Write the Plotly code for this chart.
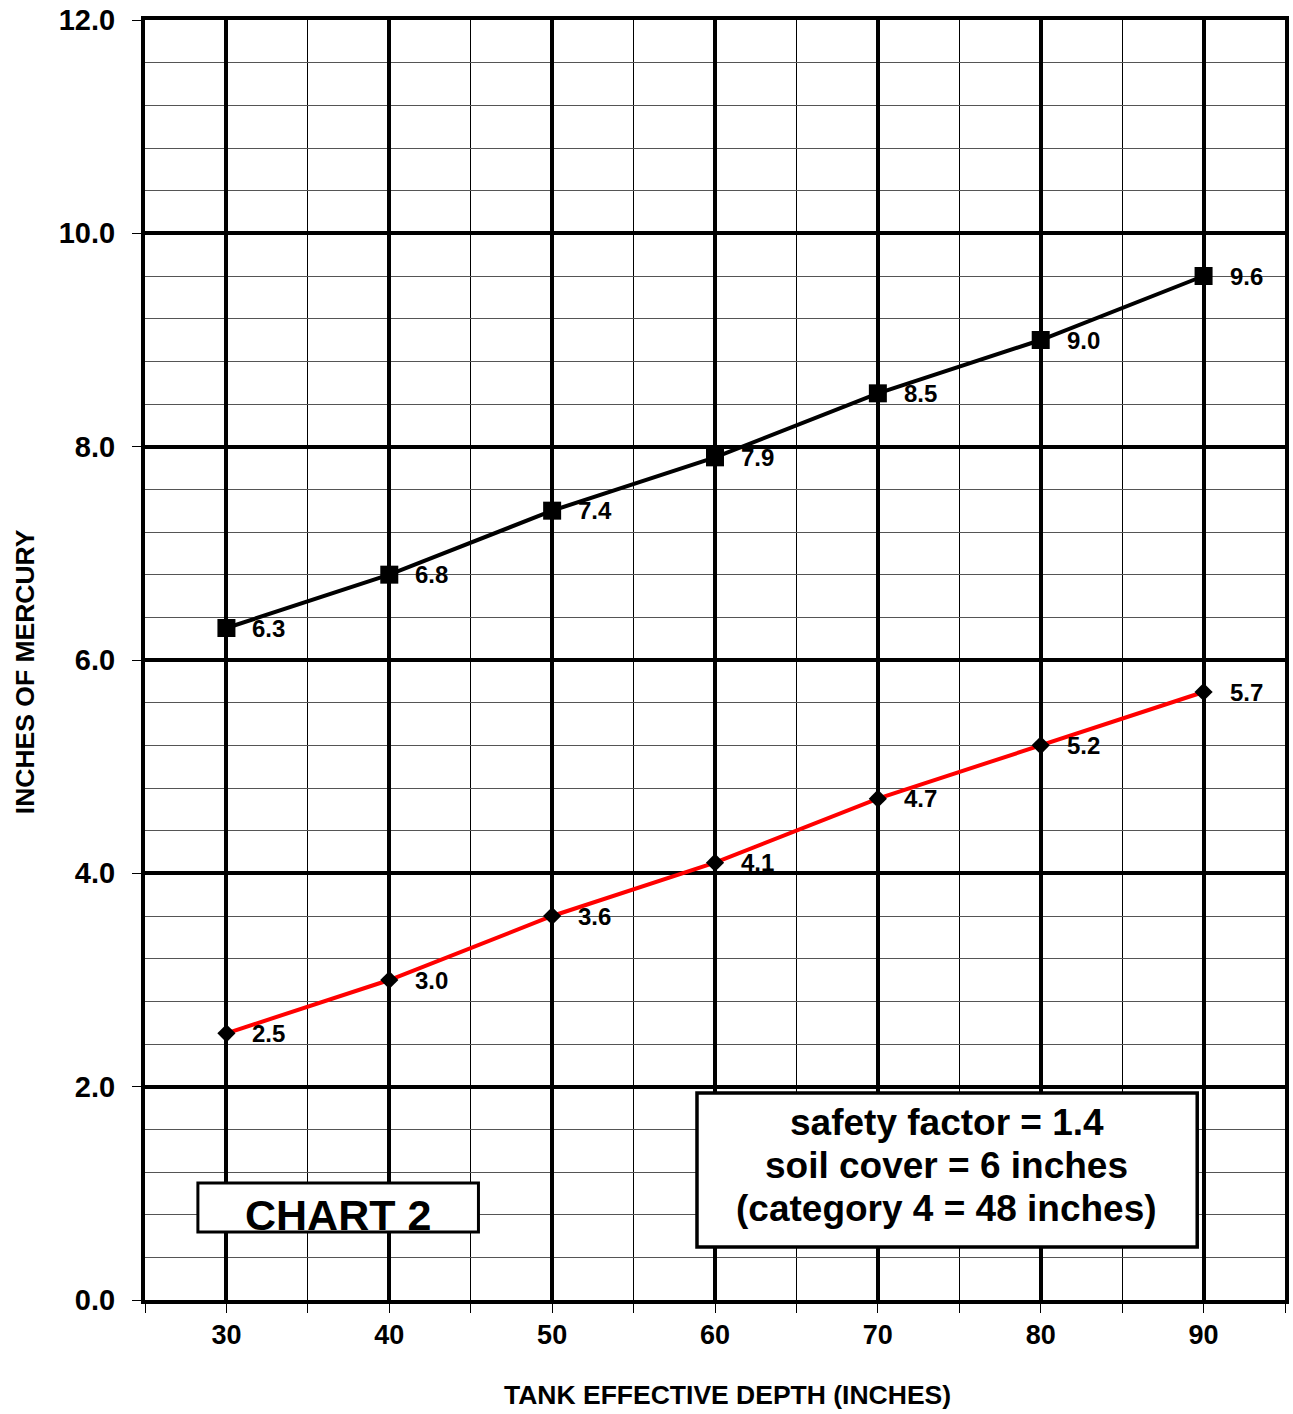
import plotly.graph_objects as go

# ---- data ----
depth = [30, 40, 50, 60, 70, 80, 90]
upper_vals = [6.3, 6.8, 7.4, 7.9, 8.5, 9.0, 9.6]
lower_vals = [2.5, 3.0, 3.6, 4.1, 4.7, 5.2, 5.7]
y_ticks = [0, 2, 4, 6, 8, 10, 12]
x_title = "TANK EFFECTIVE DEPTH (INCHES)"
y_title = "INCHES OF MERCURY"
chart_label = "CHART 2"
info_lines = ["safety factor = 1.4", "soil cover = 6 inches", "(category 4 = 48 inches)"]

FONT = "Liberation Sans, Arial, Helvetica, sans-serif"

fig = go.Figure()
fig.add_trace(go.Scatter(
    x=depth, y=upper_vals, mode="lines+markers",
    line=dict(color="black", width=4),
    marker=dict(symbol="square", size=18, color="black"),
    showlegend=False, hoverinfo="skip"))
fig.add_trace(go.Scatter(
    x=depth, y=lower_vals, mode="lines+markers",
    line=dict(color="#ff0000", width=4),
    marker=dict(symbol="diamond", size=14, color="black"),
    showlegend=False, hoverinfo="skip"))

annotations = []
for series in (upper_vals, lower_vals):
    for xv, yv in zip(depth, series):
        annotations.append(dict(
            x=xv, y=yv, xref="x", yref="y", text=f"{yv:.1f}",
            showarrow=False, xanchor="left", yanchor="middle", xshift=24,
            font=dict(family=FONT, size=24, color="black", weight="bold")))

annotations.append(dict(
    x=0.5114, y=-0.0742, xref="paper", yref="paper", text=x_title,
    showarrow=False, xanchor="center", yanchor="middle",
    font=dict(family=FONT, size=26.5, color="black", weight="bold")))
annotations.append(dict(
    x=-0.1051, y=0.4906, xref="paper", yref="paper", text=y_title,
    showarrow=False, xanchor="center", yanchor="middle", textangle=-90,
    font=dict(family=FONT, size=26.5, color="black", weight="bold")))

annotations.append(dict(
    x=0.1695, y=0.0664, xref="paper", yref="paper", text=chart_label,
    showarrow=False, xanchor="center", yanchor="middle",
    font=dict(family=FONT, size=43, color="black", weight="bold")))

for line, ypos in zip(info_lines, [0.1383, 0.1047, 0.0711]):
    annotations.append(dict(
        x=0.7035, y=ypos, xref="paper", yref="paper", text=line,
        showarrow=False, xanchor="center", yanchor="middle",
        font=dict(family=FONT, size=37, color="black", weight="bold")))

shapes = [
    dict(type="rect", xref="paper", yref="paper", x0=0.0464, x1=0.2925, y0=0.0531, y1=0.0914,
         line=dict(color="black", width=3), fillcolor="white", layer="above"),
    dict(type="rect", xref="paper", yref="paper", x0=0.4842, x1=0.9230, y0=0.0414, y1=0.1617,
         line=dict(color="black", width=3.5), fillcolor="white", layer="above"),
]

fig.update_layout(
    width=1293, height=1414,
    margin=dict(l=145, r=4, t=20, b=114),
    paper_bgcolor="white", plot_bgcolor="white",
    annotations=annotations, shapes=shapes,
    font=dict(family=FONT, color="black"),
)

fig.update_xaxes(
    range=[25, 95], tickmode="array", tickvals=depth, ticktext=[str(d) for d in depth],
    ticks="", showgrid=True, gridcolor="black", gridwidth=4,
    showline=True, linecolor="black", linewidth=4, mirror=True,
    zeroline=False, ticklabelstandoff=8,
    tickfont=dict(family=FONT, size=27, color="black", weight="bold"),
    minor=dict(tick0=25, dtick=5, ticks="outside", ticklen=9, tickwidth=1,
               tickcolor="black", showgrid=True, gridcolor="black", gridwidth=1),
)
fig.update_yaxes(
    range=[0, 12], tickmode="array", tickvals=y_ticks, tickformat=".1f",
    ticks="outside", ticklen=9, tickwidth=1, tickcolor="black",
    showgrid=True, gridcolor="black", gridwidth=4,
    showline=True, linecolor="black", linewidth=4, mirror=True,
    zeroline=False, ticklabelstandoff=11,
    tickfont=dict(family=FONT, size=29, color="black", weight="bold"),
    minor=dict(tick0=0, dtick=0.4, showgrid=True, gridcolor="#555555", gridwidth=1.2, ticks=""),
)

fig.write_html(
    "out.html",
    config={"displayModeBar": False},
    post_script="document.body.style.margin='0';document.body.style.padding='0';"
                "document.body.style.overflow='hidden';",
)
